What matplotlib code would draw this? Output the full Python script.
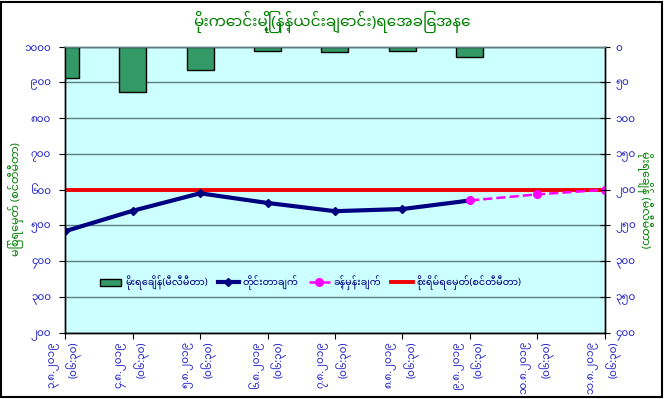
import matplotlib
matplotlib.use('Agg')
import matplotlib.pyplot as plt
from matplotlib import font_manager
from matplotlib.ft2font import FT2Font
from matplotlib.patches import Rectangle

# ---- data ----
dates = ['၃.၈.၂၀၁၉', '၄.၈.၂၀၁၉', '၅.၈.၂၀၁၉', '၆.၈.၂၀၁၉', '၇.၈.၂၀၁၉',
         '၈.၈.၂၀၁၉', '၉.၈.၂၀၁၉', '၁၀.၈.၂၀၁၉', '၁၁.၈.၂၀၁၉']
times = ['(၀၆:၃၀)', '(၀၆:၃၀)', '(၀၆:၃၀)', '(၀၆:၃၀)', '(၀၆:၃၀)',
         '(၀၆:၃၀)', '(၀၆:၃၀)', '(၀၆:၃၀)', '(၀၆:၃၀)']
rainfall = [44, 63, 33, 6, 8, 6, 14]          # mm, right axis
measured = [484, 541, 590, 563, 540, 546, 570]  # cm, left axis
forecast = [570, 587, 600]                      # starts at last measured day
danger_level = 600

left_ticks = [200, 300, 400, 500, 600, 700, 800, 900, 1000]
right_ticks = [0, 50, 100, 150, 200, 250, 300, 350, 400]

title = 'မိုးကောင်းမြို့(နန့်ယင်းချောင်း)ရေအခြေအနေ'
left_label = 'မြစ်ရေမှတ် (စင်တီမီတာ)'
right_label = 'မိုးရေချိန် (မီလီမီတာ)'
legend_labels = ['မိုးရေချိန်(မီလီမီတာ)', 'တိုင်းတာချက်', 'ခန့်မှန်းချက်',
                 'စိုးရိမ်ရေမှတ်(စင်တီမီတာ)']


def myanmar_font():
    # look for an installed font that has Myanmar glyphs, prefer Noto
    found = []
    for f in font_manager.fontManager.ttflist:
        try:
            if 0x1000 in FT2Font(f.fname).get_charmap():
                found.append(f.name)
        except Exception:
            continue
    found.sort(key=lambda n: (0 if 'Noto' in n and 'Myanmar' in n else 1, n))
    return found[0] if found else None


mm = myanmar_font()
plt.rcParams['font.family'] = ([mm] if mm else []) + ['DejaVu Sans']

to_mm = str.maketrans('0123456789', '၀၁၂၃၄၅၆၇၈၉')

blue = '#2222c8'
green = '#008000'

fig = plt.figure(figsize=(6.64, 3.99), dpi=100)
fig.patch.set_facecolor('white')
fig.patches.append(Rectangle((0.001, 0.004), 0.996, 0.992, transform=fig.transFigure,
                             fill=False, edgecolor='black', linewidth=1.5))

ax = fig.add_axes([0.098, 0.166, 0.813, 0.717])
ax.set_facecolor('#ccffff')
ax2 = ax.twinx()

x_all = list(range(len(dates)))
x_rain = x_all[:len(rainfall)]
x_meas = x_all[:len(measured)]
x_fc = x_all[len(measured) - 1:len(measured) - 1 + len(forecast)]

# rainfall bars hang from the top on the inverted right axis
bars = ax2.bar(x_rain, rainfall, width=0.4, color='#339966', edgecolor='black',
               linewidth=1, zorder=2)
ax2.set_ylim(400, 0)
ax2.set_yticks(right_ticks)
ax2.set_yticklabels([str(v).translate(to_mm) for v in right_ticks])

# water levels
l_meas, = ax.plot(x_meas, measured, color='#000080', linewidth=3, marker='D',
                  markersize=4.5, zorder=4)
l_fc, = ax.plot(x_fc, forecast, color='#ff00ff', linewidth=1.8, linestyle='--',
                marker='o', markersize=5.5, zorder=4)
l_dng = ax.axhline(danger_level, color='#ee0000', linewidth=2.8, zorder=3)

ax.set_xlim(0, len(dates) - 1)
ax.set_ylim(200, 1000)
ax.set_yticks(left_ticks)
ax.set_yticklabels([str(v).translate(to_mm) for v in left_ticks])
ax.yaxis.grid(True, color='#5f7f7f', linewidth=1)
ax.set_axisbelow(True)

ax.set_xticks(x_all)
ax.set_xticklabels([d + '\n' + t for d, t in zip(dates, times)], rotation=90,
                   ha='center', va='top', multialignment='right',
                   linespacing=1.7)

for a in (ax, ax2):
    for s in a.spines.values():
        s.set_color('black')
        s.set_linewidth(1)
ax.spines['top'].set_color('#5f7f7f')
ax2.spines['top'].set_color('#5f7f7f')

ax.tick_params(axis='y', direction='out', length=4, colors='black',
               labelcolor=blue, labelsize=7.5, pad=6)
ax.tick_params(axis='x', direction='out', length=4, colors='black',
               labelcolor=blue, labelsize=7.5, pad=2)
ax2.tick_params(axis='y', direction='inout', length=7, colors='black',
                labelcolor=blue, labelsize=7.5, pad=4)
for lab in ax.get_xticklabels() + ax.get_yticklabels() + ax2.get_yticklabels():
    lab.set_fontweight('bold')

fig.text(0.5, 0.945, title, ha='center', va='center', color=green,
         fontsize=11, fontweight='bold')
fig.text(0.024, 0.5, left_label, rotation=90, ha='center', va='center',
         color=green, fontsize=8)
fig.text(0.972, 0.5, right_label, rotation=-90, ha='center', va='center',
         color=green, fontsize=8)

leg = ax.legend([bars, l_meas, l_fc, l_dng], legend_labels, ncol=4,
                loc='center', bbox_to_anchor=(0.455, 0.174), frameon=False,
                fontsize=7, handlelength=2.2, columnspacing=1.0,
                handletextpad=0.4)
for t in leg.get_texts():
    t.set_color('#000080')
    t.set_fontweight('bold')

fig.savefig('out.png', dpi=100)
